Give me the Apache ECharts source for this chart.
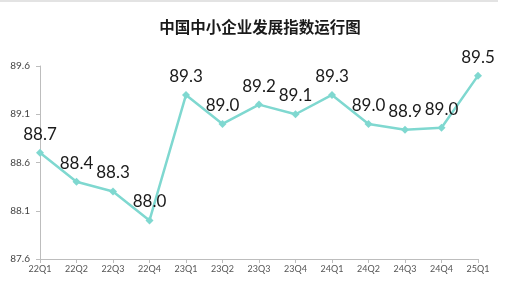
<!DOCTYPE html>
<html><head><meta charset="utf-8">
<script src="https://cdn.jsdelivr.net/npm/echarts@6/dist/echarts.min.js"></script>
<style>html,body{margin:0;padding:0;background:#fff}#c{width:520px;height:289px}</style>
</head><body><div id="c"></div>
<script>
const titleText = '中国中小企业发展指数运行图';
const categories = ['22Q1','22Q2','22Q3','22Q4','23Q1','23Q2','23Q3','23Q4','24Q1','24Q2','24Q3','24Q4','25Q1'];
const values = [88.7, 88.4, 88.3, 88.0, 89.3, 89.0, 89.2, 89.1, 89.3, 89.0, 88.94, 88.96, 89.5];
const yTicks = [87.6, 88.1, 88.6, 89.1, 89.6];

const chart = echarts.init(document.getElementById('c'), null, {renderer:'canvas'});
chart.setOption({
  animation:false,
  backgroundColor:'#fff',
  graphic:[{type:'rect', left:0, top:0, shape:{width:498, height:2}, style:{fill:'#e3e3e3'}}],
  title:{text:titleText, left:'center', top:14, itemGap:0,
    textStyle:{fontFamily:'Noto Sans CJK SC', fontSize:15.5, fontWeight:'bold', color:'#1a1a1a'}},
  grid:{left:40, right:42, top:66, bottom:30, containLabel:false},
  xAxis:{type:'category', data:categories, boundaryGap:false,
    axisLine:{lineStyle:{color:'#bdbdbd', width:1}},
    axisTick:{show:true, alignWithLabel:true, length:4, lineStyle:{color:'#bdbdbd'}},
    axisLabel:{color:'#555', fontSize:9, fontFamily:'Lato', margin:6}},
  yAxis:{type:'value', min:87.6, max:89.6,
    axisLine:{show:true, lineStyle:{color:'#bdbdbd', width:1}},
    axisTick:{show:true, length:4, customValues:yTicks, lineStyle:{color:'#bdbdbd'}},
    axisLabel:{color:'#444', fontSize:10, fontFamily:'Lato', margin:10, customValues:yTicks,
      formatter:v=>v.toFixed(1)},
    splitLine:{show:false}},
  series:[{type:'line', data:values, symbol:'diamond', symbolSize:8,
    lineStyle:{color:'#7fd8d0', width:2.5}, itemStyle:{color:'#7fd8d0'},
    label:{show:true, position:'top', distance:6, fontSize:17, fontFamily:'Lato', color:'#1a1a1a',
      formatter:p=>p.value.toFixed(1)}}]
});
</script></body></html>
